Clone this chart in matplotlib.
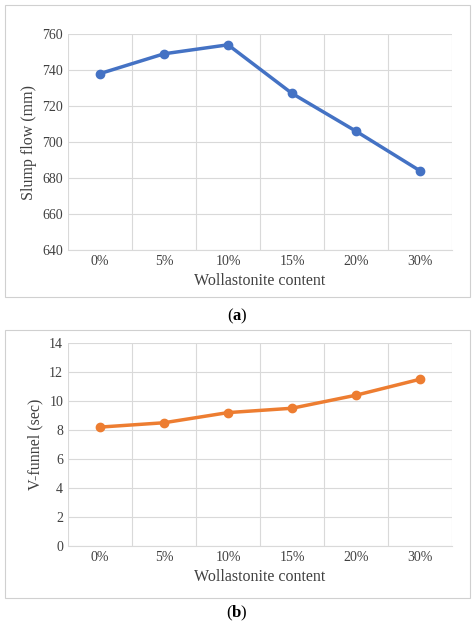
import matplotlib
matplotlib.use("Agg")
import matplotlib.pyplot as plt
from matplotlib.patches import Rectangle
import numpy as np

categories = ["0%", "5%", "10%", "15%", "20%", "30%"]
slump = [738, 749, 754, 727, 706, 684]
vfunnel = [8.2, 8.5, 9.2, 9.5, 10.4, 11.5]

plt.rcParams['font.family'] = ['Liberation Serif', 'DejaVu Serif']
plt.rcParams['mathtext.fontset'] = 'custom'
plt.rcParams['mathtext.bf'] = 'Liberation Serif:bold'
plt.rcParams['mathtext.rm'] = 'Liberation Serif'
W, H = 474, 628
fig = plt.figure(figsize=(W/100, H/100), dpi=100)

def panel(box, plot, y, color, ylim, step, ylabel, tag, tagy):
    x0, y0, x1, y1 = box
    fig.patches.append(Rectangle((x0/W, 1-y1/H), (x1-x0)/W, (y1-y0)/H,
                                 transform=fig.transFigure, fill=False,
                                 edgecolor="#d0d0d0", lw=0.8))
    px0, py0, px1, py1 = plot
    ax = fig.add_axes([px0/W, 1-py1/H, (px1-px0)/W, (py1-py0)/H])
    xs = range(len(categories))
    ax.plot(xs, y, color=color, lw=2.5, marker="o", ms=6)
    ax.set_xlim(-0.5, len(categories)-0.5)
    ax.set_ylim(*ylim)
    ax.set_yticks(np.arange(ylim[0], ylim[1]+step/2, step))
    ax.set_xticks(list(xs))
    ax.set_xticklabels(categories)
    ax.set_xticks([i+0.5 for i in range(-1, len(categories))], minor=True)
    ax.grid(True, axis="y", color="#d9d9d9", lw=0.8)
    ax.grid(True, axis="x", which="minor", color="#d9d9d9", lw=0.8)
    ax.tick_params(which="both", length=0, labelsize=10, colors="#404040")
    for s in ["top", "right", "left"]:
        ax.spines[s].set_visible(False)
    ax.spines["bottom"].set_color("#d9d9d9")
    ax.set_axisbelow(True)
    ax.set_xlabel("Wollastonite content", fontsize=11.5, color="#404040", labelpad=4)
    ax.set_ylabel(ylabel, fontsize=11.5, color="#404040")
    fig.text(0.5, 1-tagy/H, tag, ha="center", va="center", fontsize=12, color="black")

panel((5, 5, 470, 297), (68, 34, 452, 250), slump, "#4472c4", (640, 760), 20,
      "Slump flow (mm)", r"($\mathbf{a}$)", 316)
panel((5, 330, 470, 598), (68, 343, 452, 546), vfunnel, "#ed7d31", (0, 14), 2,
      "V-funnel (sec)", r"($\mathbf{b}$)", 613)

fig.savefig("out.png", dpi=100)
